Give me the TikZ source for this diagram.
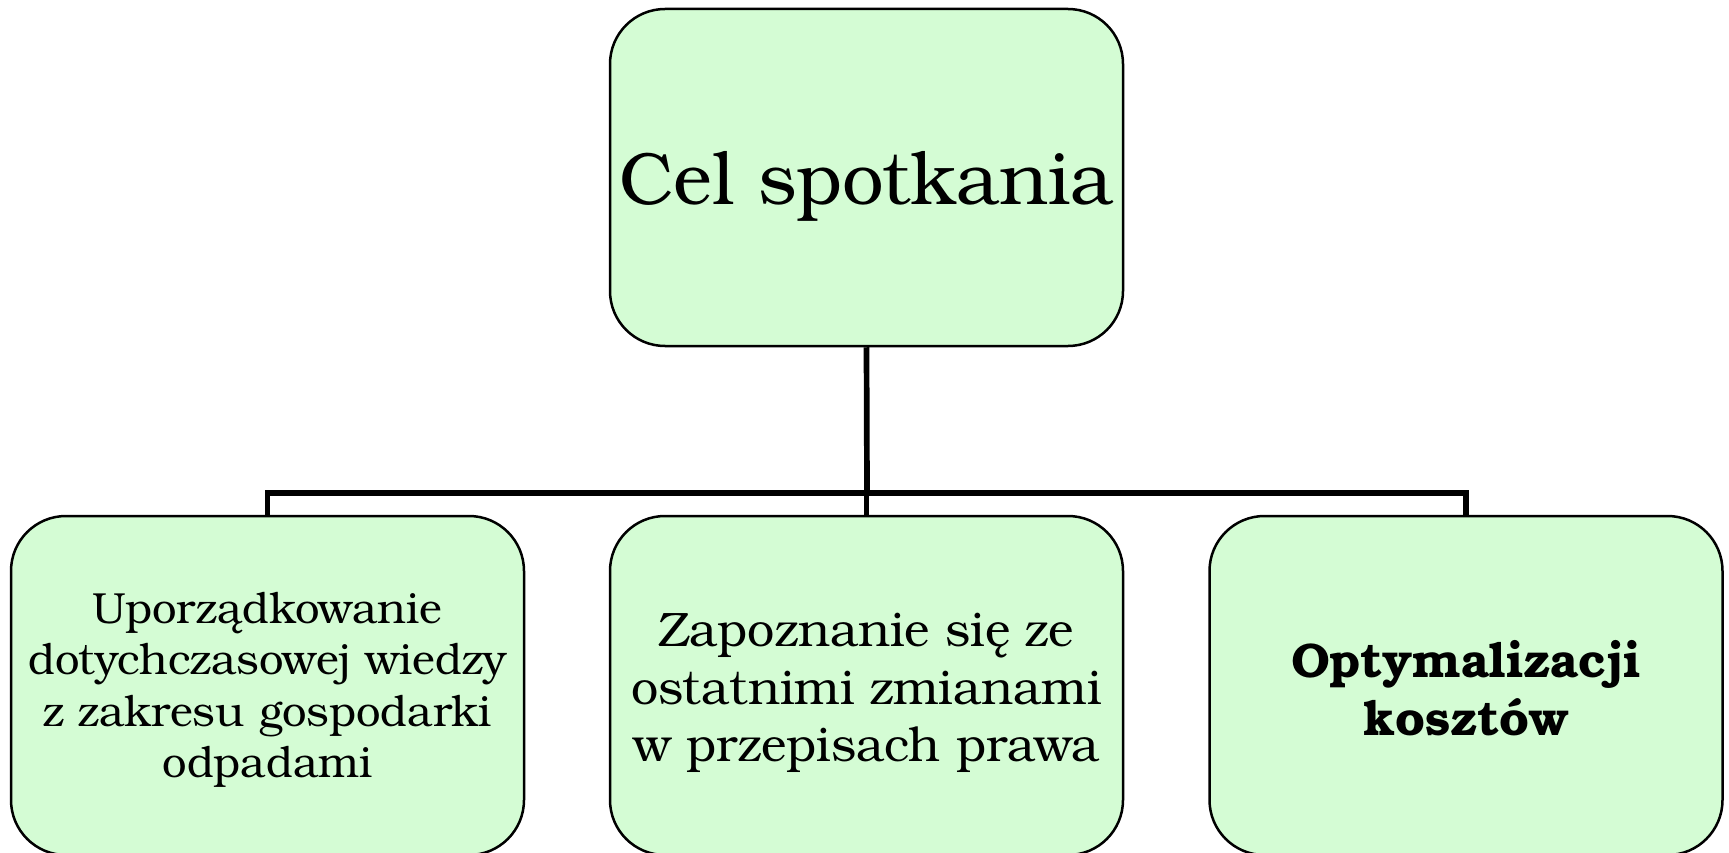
\documentclass[tikz,border=0pt]{standalone}
\usepackage{fontspec}
\setmainfont{TeX Gyre Bonum}
\definecolor{boxfill}{RGB}{212,252,212}
\begin{document}
\begin{tikzpicture}[x=1pt,y=1pt,
  box/.style={draw=black,line width=2.5pt,fill=boxfill,rounded corners=55pt,
    minimum width=513pt,inner sep=0pt},
  txt/.style={inner sep=0pt,align=center},
  link/.style={draw=black,line width=5.7pt}]
\useasboundingbox (0,0) rectangle (1729,-853);
\node[box,minimum height=337pt] (top) at (866.5,-177.5) {};
\node[box,minimum height=339pt] (b1) at (267.5,-685.5) {};
\node[box,minimum height=339pt] (b2) at (866.5,-685.5) {};
\node[box,minimum height=339pt] (b3) at (1466,-685.5) {};
\node[txt,font=\fontsize{74}{88}\selectfont] (ttop) at ([yshift=-9pt]top.center) {Cel spotkania};
\node[txt,font=\fontsize{43.5}{51.5}\selectfont] (t1) at ([yshift=-4.5pt]b1.center)
  {Uporządkowanie\\dotychczasowej wiedzy\\z zakresu gospodarki\\odpadami};
\node[txt,font=\fontsize{48.4}{57.5}\selectfont] (t2) at ([yshift=-7.5pt]b2.center)
  {Zapoznanie się ze\\ostatnimi zmianami\\w przepisach prawa};
\node[txt,font=\fontsize{48.5}{57.5}\selectfont\bfseries] (t3) at ([yshift=-2.5pt]b3.center)
  {Optymalizacji\\kosztów};
\coordinate (bus) at (867,-493);
\draw[link] (top.south) -- (bus);
\draw[link] (b1.north) -- (b1.north |- bus) -- (b3.north |- bus) -- (b3.north);
\draw[link] (b2.north) -- (b2.north |- bus);
\end{tikzpicture}
\end{document}
